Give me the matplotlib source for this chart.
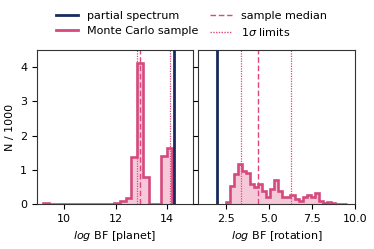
import numpy as np
import matplotlib
matplotlib.use("Agg")
import matplotlib.pyplot as plt
from matplotlib.lines import Line2D

# ---- data ----
# planet: histogram bin edges and heights (N / 1000)
planet_edges = [9.20, 9.43, 11.70, 11.93, 12.16, 12.39, 12.61, 12.84, 13.07, 13.30, 13.52, 13.75, 13.98, 14.20]
planet_vals = [0.02, 0.0, 0.01, 0.02, 0.08, 0.17, 1.36, 4.11, 0.78, 0.0, 0.0, 1.41, 1.64]
planet_partial = 14.26
planet_median = 12.96
planet_limits = [12.83, 14.10]

# rotation
rot_edges = list(np.round(2.50 + 0.235 * np.arange(31), 3))
rot_vals = [0.05, 0.54, 0.88, 1.17, 0.97, 0.90, 0.58, 0.49, 0.58, 0.39,
            0.21, 0.44, 0.70, 0.39, 0.21, 0.19, 0.27, 0.15, 0.10, 0.21,
            0.27, 0.21, 0.31, 0.08, 0.03, 0.06, 0.02, 0.01, 0.01, 0.01]
rot_partial = 2.0
rot_median = 4.38
rot_limits = [3.40, 6.28]

NAVY = "#1b2a5e"
PINK = "#d44a7e"
LINE = "#e0457e"
FILL = "#f5c3d4"

plt.rcParams['font.family'] = ['DejaVu Sans']
plt.rcParams['font.size'] = 8

fig = plt.figure(figsize=(3.74, 2.49), dpi=100)
W, H = 374, 249
axL = fig.add_axes([37 / W, (H - 204) / H, 156 / W, 154 / H])
axR = fig.add_axes([198 / W, (H - 204) / H, 157 / W, 154 / H], sharey=axL)


def panel(ax, edges, vals, partial, median, limits):
    ax.stairs(vals, edges, fill=True, color=FILL, alpha=0.9, zorder=1)
    ax.stairs(vals, edges, color=PINK, lw=1.9, zorder=2)
    ax.axvline(partial, color=NAVY, lw=2, zorder=3)
    ax.axvline(median, color=LINE, lw=1.0, ls=(0, (4, 2)), zorder=2.5)
    for l in limits:
        ax.axvline(l, color=LINE, lw=0.9, ls=(0, (1, 1)), zorder=2.5)
    for s in ax.spines.values():
        s.set_linewidth(0.8)
        s.set_color("#333333")


panel(axL, planet_edges, planet_vals, planet_partial, planet_median, planet_limits)
panel(axR, rot_edges, rot_vals, rot_partial, rot_median, rot_limits)

axL.set_xlim(8.95, 15.0)
axL.set_xticks([10, 12, 14])
axR.set_xlim(0.9, 10.0)
axR.set_xticks([2.5, 5.0, 7.5, 10.0])
axL.set_ylim(0, 4.5)
axL.set_yticks([0, 1, 2, 3, 4])
plt.setp(axR.get_yticklabels(), visible=False)

axL.set_ylabel("N / 1000")
axL.set_xlabel(r"$\mathit{log}$ BF [planet]")
axR.set_xlabel(r"$\mathit{log}$ BF [rotation]")

handles = [Line2D([], [], color=NAVY, lw=2),
           Line2D([], [], color=PINK, lw=2),
           Line2D([], [], color=LINE, lw=1, ls=(0, (4, 2))),
           Line2D([], [], color=LINE, lw=1, ls=(0, (1, 1)))]
labels = ["partial spectrum", "Monte Carlo sample", "sample median", r"1$\sigma$ limits"]
fig.legend(handles, labels, ncol=2, frameon=False, loc="upper center",
           bbox_to_anchor=(0.512, 0.995), columnspacing=1.0, handlelength=2.0,
           labelspacing=0.45)

fig.savefig("out.png", dpi=100)
